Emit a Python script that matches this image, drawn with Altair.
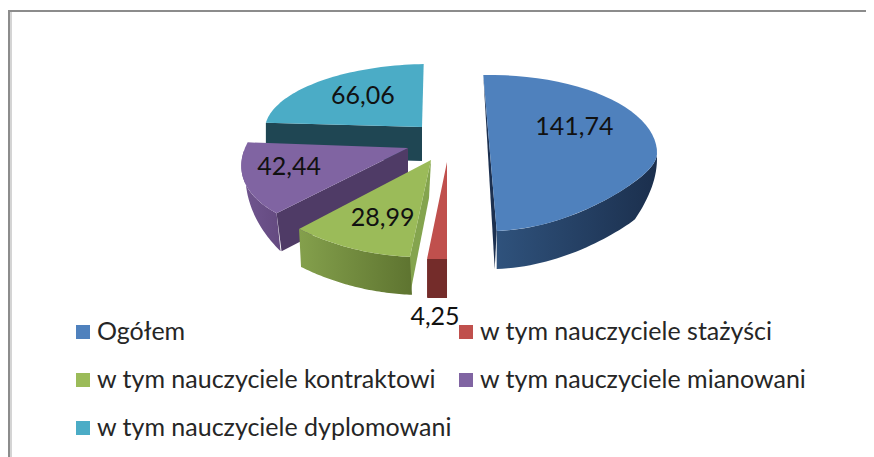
import math
import altair as alt
import pandas as pd

names = ["Ogółem", "w tym nauczyciele stażyści", "w tym nauczyciele kontraktowi",
         "w tym nauczyciele mianowani", "w tym nauczyciele dyplomowani"]
values = [141.74, 4.25, 28.99, 42.44, 66.06]
value_labels = ["141,74", "4,25", "28,99", "42,44", "66,06"]
colors = ["#4F81BD", "#C0504D", "#9BBB59", "#8064A2", "#4BACC6"]

# projection of each exploded wedge: apex, radii, shear, front flattening, wall depth
GEOM = [
    dict(cx=490, cy=153, a=167, b=78, s=0, f=0.35, d=38),
    dict(cx=447, cy=162, a=212, b=97, s=-8.5, f=0, d=39),
    dict(cx=431, cy=160, a=193, b=97, s=-10.6, f=0.18, d=38),
    dict(cx=408, cy=148, a=163, b=85, s=-35, f=0, d=38),
    dict(cx=422, cy=127, a=157, b=63, s=-8, f=0, d=34),
]
START = -2.3
total = sum(values)
angles = [START]
for v in values:
    angles.append(angles[-1] + v / total * 360)

X = alt.Scale(domain=[8, 866], range=[0, 858], nice=False, zero=False)
Y = alt.Scale(domain=[8, 457], range=[0, 449], nice=False, zero=False)


def pt(g, deg, depth=0.0, shift=0.0):
    t = math.radians(deg)
    c = -math.cos(t)
    yc = c if c <= 0 else c * (1 - g["f"]) + g["f"] * c ** 3
    return (g["cx"] + g["a"] * math.sin(t) + g["s"] * c + shift, g["cy"] + g["b"] * yc + depth)


def arc(g, a0, a1, depth=0.0, shift=0.0, n=48):
    """depth may be a function of the angle."""
    out = []
    for i in range(n + 1):
        th = a0 + (a1 - a0) * i / n
        out.append(pt(g, th, depth(th) if callable(depth) else depth, shift))
    return out


def poly(points, fill):
    df = pd.DataFrame({"x": [p[0] for p in points], "y": [p[1] for p in points],
                       "k": list(range(len(points)))})
    return alt.Chart(df).mark_line(fill=fill, strokeWidth=0, stroke="transparent", interpolate="linear").encode(
        x=alt.X("x:Q", scale=X, axis=None),
        y=alt.Y("y:Q", scale=Y, axis=None),
        order="k:O",
    )


def grad(c0, c1):
    return alt.LinearGradient(gradient="linear", x1=0, x2=1, y1=0, y2=0,
                              stops=[alt.GradientStop(color=c0, offset=0),
                                     alt.GradientStop(color=c1, offset=1)])


layers = []
# teal
g = GEOM[4]
a0, a1 = angles[4], angles[5]
apex = (g["cx"], g["cy"])
l = pt(g, a0)
layers.append(poly([l, apex, (apex[0], apex[1] + g["d"]), (l[0], l[1] + g["d"])], "#1F4653"))
layers.append(poly([apex] + arc(g, a0, a1), colors[4]))
# purple
g = GEOM[3]
a0, a1 = angles[3], angles[4]
apex = (g["cx"], g["cy"])
f = pt(g, a0)
end = a1 - 6
layers.append(poly([apex, f, (f[0] + 5, f[1] + g["d"]), (apex[0], apex[1] + g["d"])], "#4F3B66"))
layers.append(poly(arc(g, a0, end) + arc(g, end, a0, lambda th: GEOM[3]["d"] * (end - th) / (end - a0), 4),
                   grad("#715690", "#644A80")))
layers.append(poly([apex] + arc(g, a0, a1), colors[3]))
# green
g = GEOM[2]
a0, a1 = angles[2], angles[3]
apex = (g["cx"], g["cy"])
f = pt(g, a0)
layers.append(poly([apex, f, (f[0], f[1] + g["d"]), (apex[0] - 2, apex[1] + g["d"])], "#84A44E"))
layers.append(poly(arc(g, a0, a1) + arc(g, a1, a0, g["d"], 2), grad("#84A04C", "#5E7430")))
layers.append(poly([apex] + arc(g, a0, a1), colors[2]))
# red
g = GEOM[1]
a0, a1 = angles[1], angles[2]
apex = (g["cx"], g["cy"])
layers.append(poly(arc(g, a0, a1) + arc(g, a1, a0, g["d"]), "#742C2A"))
layers.append(poly([apex] + arc(g, a0, a1), colors[1]))
# blue
g = GEOM[0]
a0, a1 = angles[0], angles[1]
top, bot = pt(g, a0), pt(g, a1)
layers.append(poly([top, bot, (bot[0] - 2, bot[1] + g["d"])], "#1C3050"))
layers.append(poly(arc(g, 85, a1) + arc(g, a1, 85, lambda th: GEOM[0]["d"] * min(1, (th - 85) / 35)),
                   grad("#2F527C", "#1B2F4D")))
layers.append(poly(arc(g, a0, a1), colors[0]))

# value labels, anchored on each wedge's mid-angle
LABEL_FRAC = [0.5, 1.55, 0.6, 0.72, 0.55]
LABEL_NUDGE = [(1, -24), (3.5, 5), (0, 5), (-1, -5), (-2, -6)]
lab = []
for i, g in enumerate(GEOM):
    mid = (angles[i] + angles[i + 1]) / 2
    m = pt(g, mid)
    lab.append(dict(x=g["cx"] + (m[0] - g["cx"]) * LABEL_FRAC[i] + LABEL_NUDGE[i][0],
                    y=g["cy"] + (m[1] - g["cy"]) * LABEL_FRAC[i] + LABEL_NUDGE[i][1],
                    t=value_labels[i]))

# legend
LEG_COL = [76, 459]
LEG_ROW = [332, 380, 428]
leg = []
for i, n in enumerate(names):
    leg.append(dict(x=LEG_COL[i % 2], y=LEG_ROW[i // 2], n=n, c=colors[i]))
leg = pd.DataFrame(leg)
layers.append(alt.Chart(leg).mark_rect(width=14, height=14, align="left").encode(
    x=alt.X("x:Q", scale=X, axis=None), y=alt.Y("y:Q", scale=Y, axis=None),
    color=alt.Color("c:N", scale=None, legend=None)))
layers.append(alt.Chart(leg).mark_text(font="Lato", fontSize=25, color="#262626", align="left", dx=21).encode(
    x=alt.X("x:Q", scale=X, axis=None), y=alt.Y("y:Q", scale=Y, axis=None), text="n:N"))
layers.append(alt.Chart(pd.DataFrame(lab)).mark_text(font="Lato", fontSize=25, color="#111111").encode(
    x=alt.X("x:Q", scale=X, axis=None), y=alt.Y("y:Q", scale=Y, axis=None), text="t:N"))

# frame
layers.append(alt.Chart(pd.DataFrame({"a": [0]})).mark_rule(color="#8C8C8C", strokeWidth=2).encode(
    x=alt.value(0), x2=alt.value(858), y=alt.value(3)))
layers.append(alt.Chart(pd.DataFrame({"a": [0]})).mark_rule(color="#8C8C8C", strokeWidth=2).encode(
    x=alt.value(1), y=alt.value(2), y2=alt.value(449)))
layers.append(alt.Chart(pd.DataFrame({"a": [0]})).mark_rule(color="#D4D4D4", strokeWidth=2).encode(
    x=alt.value(3), y=alt.value(4), y2=alt.value(449)))

chart = alt.layer(*layers).properties(width=858, height=449, padding=0, background="white",
    autosize=alt.AutoSizeParams(type="none")).configure_view(stroke=None)
chart.save("out.html", embed_options={"renderer": "svg", "actions": False})
